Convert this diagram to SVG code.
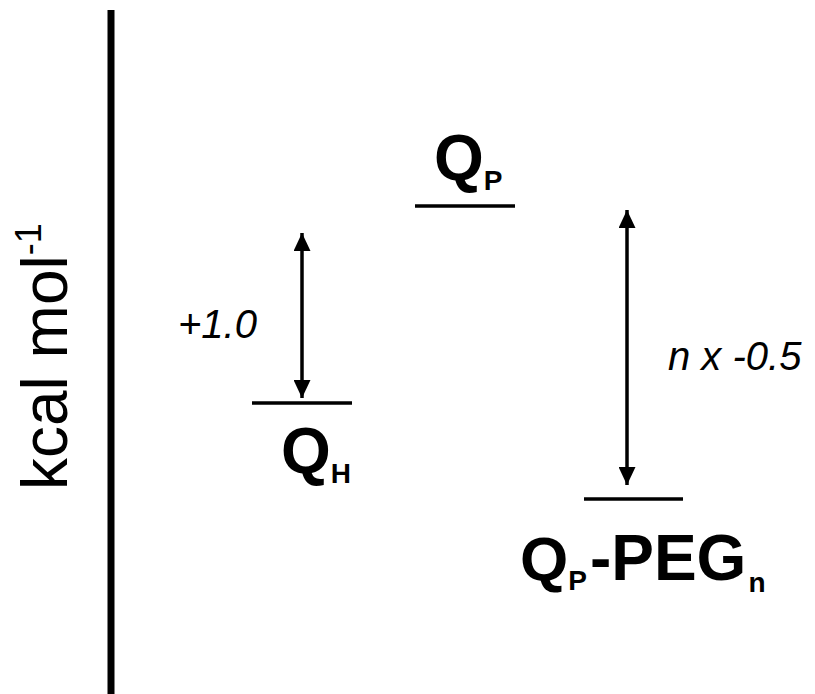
<svg xmlns="http://www.w3.org/2000/svg" width="815" height="694" viewBox="0 0 815 694">
<style>
.lvl{stroke:#000;stroke-width:3.5;fill:none}
.arr{stroke:#000;stroke-width:3.5;fill:none;marker-start:url(#ah);marker-end:url(#ah)}
.big{font-family:"Liberation Sans",Arial,sans-serif;font-weight:bold;fill:#000}
.it{font-family:"Liberation Sans",Arial,sans-serif;font-style:italic;font-size:40px;fill:#000}
</style>
<defs>
<marker id="ah" markerUnits="userSpaceOnUse" markerWidth="18" markerHeight="17" refX="18" refY="8.5" orient="auto-start-reverse" viewBox="0 0 18 17">
<path d="M0,0 L18,8.5 L0,17 z" fill="#000"/>
</marker>
</defs>
<rect width="815" height="694" fill="#fff"/>
<g id="axis">
<line x1="111" y1="10" x2="111" y2="694" stroke="#000" stroke-width="7"/>
<text transform="translate(67,490) rotate(-90)" font-family="Liberation Sans,Arial,sans-serif" font-size="64" fill="#000">kcal mol<tspan font-size="36" dy="-26">-1</tspan></text>
</g>
<g id="QP">
<line class="lvl" x1="415" y1="206" x2="515" y2="206"/>
<text class="big" x="434" y="180" font-size="64">Q<tspan font-size="28" dy="10">P</tspan></text>
</g>
<g id="QH">
<line class="lvl" x1="252" y1="403" x2="352" y2="403"/>
<text class="big" x="281" y="473" font-size="64">Q<tspan font-size="28" dy="10">H</tspan></text>
</g>
<g id="QPPEG">
<line class="lvl" x1="584" y1="499" x2="683" y2="499"/>
<text class="big" x="520" y="580" font-size="62">Q<tspan font-size="28" dy="10">P</tspan><tspan font-size="64" dx="3" dy="-10">-PEG</tspan><tspan font-size="28" dx="2" dy="12">n</tspan></text>
</g>
<g id="connectors">
<line class="arr" x1="302" y1="233" x2="302" y2="398"/>
<line class="arr" x1="627" y1="210" x2="627" y2="485"/>
<text class="it" x="178" y="338">+1.0</text>
<text class="it" x="668" y="370">n x -0.5</text>
</g>
</svg>
